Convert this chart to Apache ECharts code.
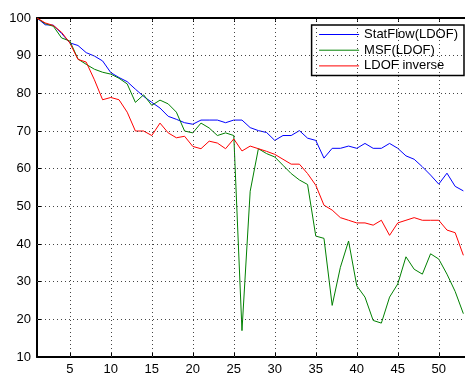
<!DOCTYPE html>
<html>
<head>
<meta charset="utf-8">
<script src="https://cdn.jsdelivr.net/npm/echarts@6/dist/echarts.min.js"></script>
<style>
html,body{margin:0;padding:0;background:#fff;}
#chart{width:465px;height:376px;}
</style>
</head>
<body>
<div id="chart"></div>
<script>
const xValues = [1,2,3,4,5,6,7,8,9,10,11,12,13,14,15,16,17,18,19,20,21,22,23,24,25,26,27,28,29,30,31,32,33,34,35,36,37,38,39,40,41,42,43,44,45,46,47,48,49,50,51,52,53];
const statFlow = [100,98.2,98.1,95.9,93.4,92.7,90.8,89.9,88.6,85.5,84.2,83.1,81.1,79.2,77.6,76.1,73.9,73.1,72.2,
  71.8,72.9,72.9,72.9,72.2,72.9,72.9,70.9,70.1,69.6,67.5,68.8,68.8,70.1,68.1,67.5,62.8,65.4,65.4,66,65.4,66.7,65.4,65.4,66.7,65.4,63.4,62.5,60.5,58.3,55.9,58.8,55.3,54.1];
const msf = [100,98.5,97.8,94.7,93.9,89.1,87.7,86.4,85.6,85.1,84,82.5,77.6,79.6,76.8,78.2,77.2,75,70,
  69.5,72.1,70.8,68.8,69.5,68.8,17,54,65.3,64,63.1,60.9,58.7,57,55.8,42.1,41.5,23.7,33.8,40.8,28.9,25.9,19.7,19,25.9,29.4,36.6,33.3,32,37.4,36,32,27.4,21.5];
const ldofInverse = [100,98.7,98,96.2,93.4,89,88.3,83.6,78.3,78.9,78.3,75,70,70,68.8,72.1,69.5,68.2,68.6,
  65.9,65.3,67.3,66.8,65.3,67.9,64.7,66,65.3,64.6,63.8,62.5,61.2,61.2,58.7,55.6,50.3,49,47,46.3,45.6,45.6,45,46.3,42.3,45.6,46.3,47,46.3,46.3,46.3,43.7,43,37];
const seriesNames = ['StatFlow(LDOF)','MSF(LDOF)','LDOF inverse'];
const seriesColors = ['#0000ff','#008000','#ff0000'];
const xTicks = [5,10,15,20,25,30,35,40,45,50];
const yTicks = [20,30,40,50,60,70,80,90];

const font = 'Liberation Sans, Arial, Helvetica, sans-serif';
const chart = echarts.init(document.getElementById('chart'), null, {renderer:'canvas'});
function pairs(ys){ return xValues.map((x,i)=>[x, ys[i]]); }
const dotStyle = {color:'#444', type:[1,3], width:1};
chart.setOption({
  animation:false,
  backgroundColor:'#fff',
  grid:{left:37, right:0, top:18, bottom:16, containLabel:false},
  legend:{
    right:1, top:25, orient:'vertical', align:'left',
    width:151, padding:[3,6,3,7],
    itemWidth:40, itemHeight:14, itemGap:2.7,
    itemStyle:{opacity:0},
    lineStyle:{width:1},
    backgroundColor:'#fff', borderColor:'#000', borderWidth:1.5,
    textStyle:{fontFamily:font, fontSize:13, color:'#000'},
    data:seriesNames
  },
  xAxis:[{
    type:'value', min:1, max:53.2, position:'bottom',
    axisLine:{show:true, onZero:false, lineStyle:{color:'#000', width:2}},
    axisTick:{show:true, inside:true, length:4, customValues:xTicks, lineStyle:{color:'#000'}},
    axisLabel:{customValues:xTicks, fontFamily:font, fontSize:13, color:'#000', margin:6},
    splitLine:{show:false}
  },{
    type:'value', min:1, max:53.2, position:'top',
    axisLine:{show:true, onZero:false, lineStyle:{color:'#000', width:2}},
    axisTick:{show:true, inside:true, length:4, customValues:xTicks, lineStyle:{color:'#000'}},
    axisLabel:{show:false},
    splitLine:{show:false}
  }],
  yAxis:{
    type:'value', min:10, max:100, interval:10,
    axisLine:{show:true, lineStyle:{color:'#000', width:2}},
    axisTick:{show:true, inside:true, length:4, lineStyle:{color:'#000'}},
    axisLabel:{fontFamily:font, fontSize:13, color:'#000', margin:6},
    splitLine:{show:false}
  },
  series:[
    {name:'grid', type:'line', data:[], silent:true, z:1,
     markLine:{silent:true, symbol:['none','none'], label:{show:false}, lineStyle:dotStyle, animation:false,
       data: xTicks.map(v=>({xAxis:v})).concat(yTicks.map(v=>({yAxis:v})))}},
    {name:seriesNames[0], type:'line', z:3, data:pairs(statFlow), symbol:'none', lineStyle:{color:seriesColors[0], width:1}, itemStyle:{color:seriesColors[0]}},
    {name:seriesNames[1], type:'line', z:3, data:pairs(msf), symbol:'none', lineStyle:{color:seriesColors[1], width:1}, itemStyle:{color:seriesColors[1]}},
    {name:seriesNames[2], type:'line', z:3, data:pairs(ldofInverse), symbol:'none', lineStyle:{color:seriesColors[2], width:1}, itemStyle:{color:seriesColors[2]}}
  ]
});
</script>
</body>
</html>
